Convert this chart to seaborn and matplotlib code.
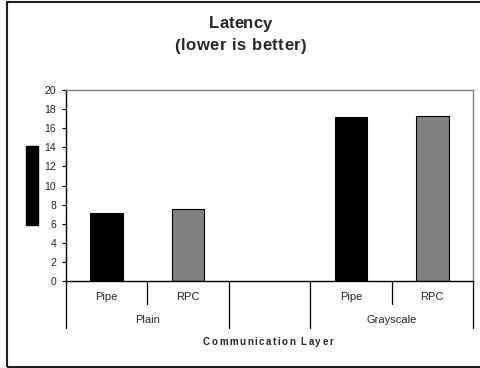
import matplotlib
matplotlib.use("Agg")
import matplotlib.pyplot as plt
import matplotlib.patches as mpatches
import matplotlib.transforms as mtransforms
from matplotlib.font_manager import FontProperties, findfont
from matplotlib.ft2font import FT2Font
import pandas as pd
import seaborn as sns

# Latency per communication layer and transport
groups = ["Plain", "Plain", "Grayscale", "Grayscale"]
transports = ["Pipe", "RPC", "Pipe", "RPC"]
latency = [7.1, 7.5, 17.2, 17.3]
y_ticks = list(range(0, 21, 2))

slots = ["Plain Pipe", "Plain RPC", "", "Grayscale Pipe", "Grayscale RPC"]
df = pd.DataFrame({
    "slot": [f"{g} {t}" for g, t in zip(groups, transports)],
    "transport": transports,
    "latency": latency,
})

sns.set_style("white")
plt.rcParams["font.family"] = ["Liberation Sans", "DejaVu Sans"]

DPI = 100
W, H = 481, 368
fig = plt.figure(figsize=(W / DPI, H / DPI), dpi=DPI)
ax = fig.add_axes([66 / W, 87 / H, 407 / W, 191 / H])

sns.barplot(data=df, x="slot", y="latency", hue="transport", order=slots,
            palette={"Pipe": "#000000", "RPC": "#808080"}, dodge=False,
            width=0.4, edgecolor="black", linewidth=0.8, legend=False, ax=ax)

ax.set_ylim(0, 20)
ax.set_xlim(-0.5, 4.5)
ax.set_yticks(y_ticks)
ax.set_yticklabels([str(v) for v in y_ticks], fontsize=7.5)
ax.set_xticks([])
ax.set_xlabel("")
ax.set_ylabel("")
ax.tick_params(axis="y", left=True, length=3, width=0.8, color="black", pad=4)

for side in ("left", "bottom"):
    ax.spines[side].set_color("black")
    ax.spines[side].set_linewidth(1.0)
for side in ("top", "right"):
    ax.spines[side].set_color("#808080")
    ax.spines[side].set_linewidth(1.0)


def advances(s, size, weight):
    """Glyph advance widths in pixels for string s."""
    path = findfont(FontProperties(family="Liberation Sans", weight=weight))
    font = FT2Font(path)
    font.set_size(size, DPI)
    return [font.load_char(ord(c)).linearHoriAdvance / 65536.0 for c in s]


def tracked_text(cx_px, cy_px, s, size, weight, width_px):
    """Draw s centred at (cx_px, cy_px) in pixels, letter-spaced to width_px."""
    adv = advances(s, size, weight)
    natural = sum(adv)
    gap = (width_px - natural) / max(len(s) - 1, 1)
    x = cx_px - width_px / 2
    for c, a in zip(s, adv):
        if c != " ":
            fig.text(x / W, 1 - cy_px / H, c, ha="left", va="center",
                     fontsize=size, fontweight=weight)
        x += a + gap


# two-level category axis
trans = mtransforms.blended_transform_factory(ax.transData, ax.transAxes)
short, long_ = -23 / 191, -47 / 191
for xb in [-0.5, 1.5, 2.5, 4.5]:
    ax.plot([xb, xb], [0, long_], color="black", lw=0.9, transform=trans, clip_on=False)
for xb in [0.5, 3.5]:
    ax.plot([xb, xb], [0, short], color="black", lw=0.9, transform=trans, clip_on=False)

for i, t in zip([0, 1, 3, 4], transports):
    ax.text(i, -16 / 191, t, transform=trans, ha="center", va="center", fontsize=8)
for xc, g in [(0.5, "Plain"), (3.5, "Grayscale")]:
    ax.text(xc, -39 / 191, g, transform=trans, ha="center", va="center", fontsize=8)

tracked_text(268, 342, "Communication Layer", 7, "bold", 130)
tracked_text(W / 2, 24, "Latency", 12, "bold", 63)
tracked_text(W / 2, 46, "(lower is better)", 12, "bold", 132)

# y-axis title block
fig.patches.append(mpatches.Rectangle((26 / W, 143 / H), 12 / W, 79 / H,
                                      transform=fig.transFigure, color="black"))
# chart frame
fig.patches.append(mpatches.Rectangle((7 / W, 1.5 / H), 1.0, 364.5 / H,
                                      transform=fig.transFigure, fill=False,
                                      edgecolor="#202020", linewidth=1.5))

fig.savefig("out.png", dpi=DPI)
